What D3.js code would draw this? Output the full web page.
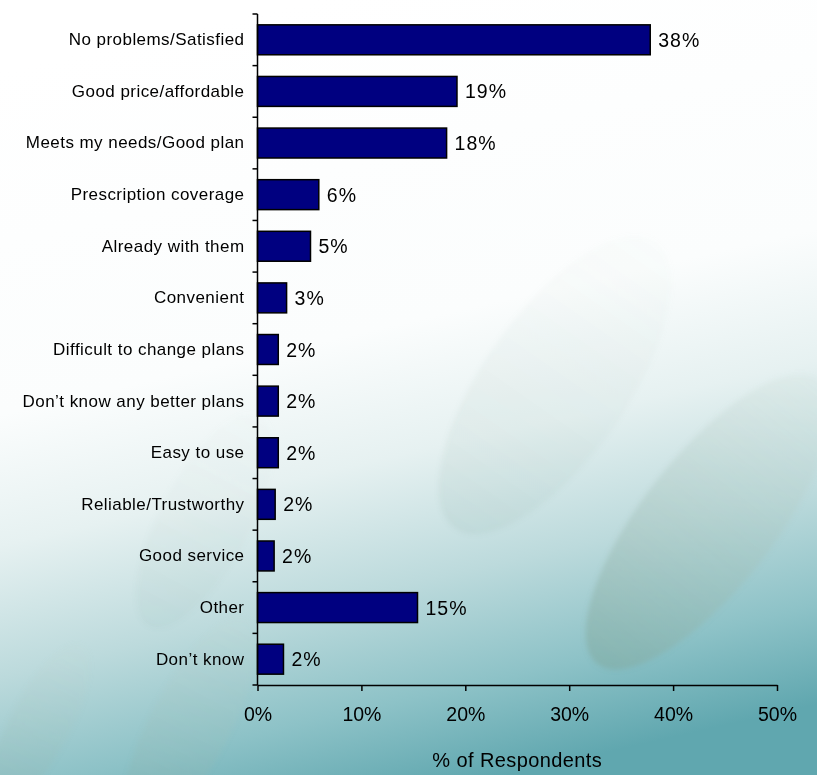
<!DOCTYPE html>
<html>
<head>
<meta charset="utf-8">
<script src="https://cdn.jsdelivr.net/npm/d3@7"></script>
<style>
  html, body { margin: 0; padding: 0; background: #fff; }
  svg { display: block; }
  text { font-family: "Liberation Sans", Arial, sans-serif; fill: #000; }
</style>
</head>
<body>
<svg id="chart" width="817" height="775"></svg>
<script>
const categories = [
  "No problems/Satisfied",
  "Good price/affordable",
  "Meets my needs/Good plan",
  "Prescription coverage",
  "Already with them",
  "Convenient",
  "Difficult to change plans",
  "Don\u2019t know any better plans",
  "Easy to use",
  "Reliable/Trustworthy",
  "Good service",
  "Other",
  "Don\u2019t know"
];
const values = [37.8, 19.2, 18.2, 5.9, 5.1, 2.8, 2.0, 2.0, 2.0, 1.7, 1.6, 15.4, 2.5];
const valueLabels = ["38%", "19%", "18%", "6%", "5%", "3%", "2%", "2%", "2%", "2%", "2%", "15%", "2%"];
const xTicks = [0, 10, 20, 30, 40, 50];
const xTitle = "% of Respondents";

const W = 817, H = 775;
const svg = d3.select("#chart");

// ---- background ----
const defs = svg.append("defs");
const bg = defs.append("linearGradient").attr("id", "bg")
  .attr("x1", "0.38").attr("y1", "0").attr("x2", "0.62").attr("y2", "1");
[[0, "#ffffff"], [0.42, "#fbfdfd"], [0.58, "#e6f1f1"], [0.74, "#bcdadc"], [0.88, "#8dc2c7"], [1, "#60a7af"]]
  .forEach(([o, c]) => bg.append("stop").attr("offset", o).attr("stop-color", c));
svg.append("rect").attr("width", W).attr("height", H).attr("fill", "url(#bg)");

const leaf = defs.append("linearGradient").attr("id", "leaf")
  .attr("x1", "0").attr("y1", "0").attr("x2", "1").attr("y2", "0");
leaf.append("stop").attr("offset", 0).attr("stop-color", "#7fa497").attr("stop-opacity", 0.55);
leaf.append("stop").attr("offset", 1).attr("stop-color", "#c9d9d2").attr("stop-opacity", 0.2);
defs.append("filter").attr("id", "soft").attr("x", "-20%").attr("y", "-20%").attr("width", "140%").attr("height", "140%")
  .append("feGaussianBlur").attr("stdDeviation", 2.5);

const leaves = [
  {cx: 708, cy: 522, rx: 180, ry: 66, a: -52, o: 0.8},
  {cx: 555, cy: 385, rx: 175, ry: 72, a: -55, o: 0.2},
  {cx: 190, cy: 725, rx: 120, ry: 40, a: -62, o: 0.4},
  {cx: 40, cy: 725, rx: 90, ry: 30, a: -62, o: 0.35},
  {cx: 205, cy: 520, rx: 120, ry: 45, a: -62, o: 0.12}
];
svg.append("g").attr("filter", "url(#soft)").selectAll("ellipse").data(leaves).join("ellipse")
  .attr("rx", d => d.rx).attr("ry", d => d.ry)
  .attr("transform", d => `translate(${d.cx},${d.cy}) rotate(${d.a})`)
  .attr("fill", "url(#leaf)").attr("opacity", d => d.o);

// ---- scales ----
const x = d3.scaleLinear().domain([0, 50]).range([257.5, 777]);
const y = d3.scaleBand().domain(categories).range([14, 685])
  .paddingInner(0.42).paddingOuter(0.21);
const step = y.step();
const gapHalf = (step - y.bandwidth()) / 2;

// ---- bars ----
svg.append("g").selectAll("rect").data(categories).join("rect")
  .attr("x", x(0))
  .attr("y", d => y(d))
  .attr("width", (d, i) => x(values[i]) - x(0))
  .attr("height", y.bandwidth())
  .attr("fill", "#000080")
  .attr("stroke", "#000")
  .attr("stroke-width", 1.5);

// ---- value labels ----
svg.append("g").selectAll("text").data(categories).join("text")
  .attr("x", (d, i) => x(values[i]) + 8)
  .attr("y", d => y(d) + y.bandwidth() / 2)
  .attr("dy", "0.36em")
  .attr("font-size", "19.5px")
  .attr("letter-spacing", "1px")
  .text((d, i) => valueLabels[i]);

// ---- y axis ----
const yAxis = svg.append("g").attr("transform", `translate(${x(0)},0)`)
  .call(d3.axisLeft(y).tickSize(0).tickPadding(13));
yAxis.select(".domain").remove();
yAxis.selectAll("text").attr("font-size", "17px")
  .attr("letter-spacing", "0.45px")
  .attr("font-family", "'Liberation Sans', Arial, sans-serif").attr("fill", "#000");

const boundaries = categories.map(c => y(c) - gapHalf).concat([y(categories[categories.length - 1]) + y.bandwidth() + gapHalf]);
svg.append("g").selectAll("line").data(boundaries).join("line")
  .attr("x1", x(0) - 5).attr("x2", x(0))
  .attr("y1", d => d).attr("y2", d => d)
  .attr("stroke", "#000").attr("stroke-width", 1.5);
svg.append("line")
  .attr("x1", x(0)).attr("x2", x(0))
  .attr("y1", boundaries[0]).attr("y2", boundaries[boundaries.length - 1])
  .attr("stroke", "#000").attr("stroke-width", 1.5);

// ---- x axis ----
const xAxis = svg.append("g").attr("transform", `translate(0,${boundaries[boundaries.length - 1]})`)
  .call(d3.axisBottom(x).tickValues(xTicks).tickFormat(d => d + "%").tickSize(6).tickSizeOuter(0));
xAxis.select(".domain").attr("stroke", "#000").attr("stroke-width", 1.5);
xAxis.selectAll(".tick line").attr("stroke", "#000").attr("stroke-width", 1.5);
xAxis.selectAll("text").attr("font-size", "19.5px")
  .attr("font-family", "'Liberation Sans', Arial, sans-serif").attr("fill", "#000")
  .attr("y", 29).attr("dy", "0.36em");

svg.append("text")
  .attr("x", (x(0) + x(50)) / 2)
  .attr("y", 767)
  .attr("text-anchor", "middle")
  .attr("font-size", "20px")
  .attr("letter-spacing", "0.4px")
  .text(xTitle);
</script>
</body>
</html>
